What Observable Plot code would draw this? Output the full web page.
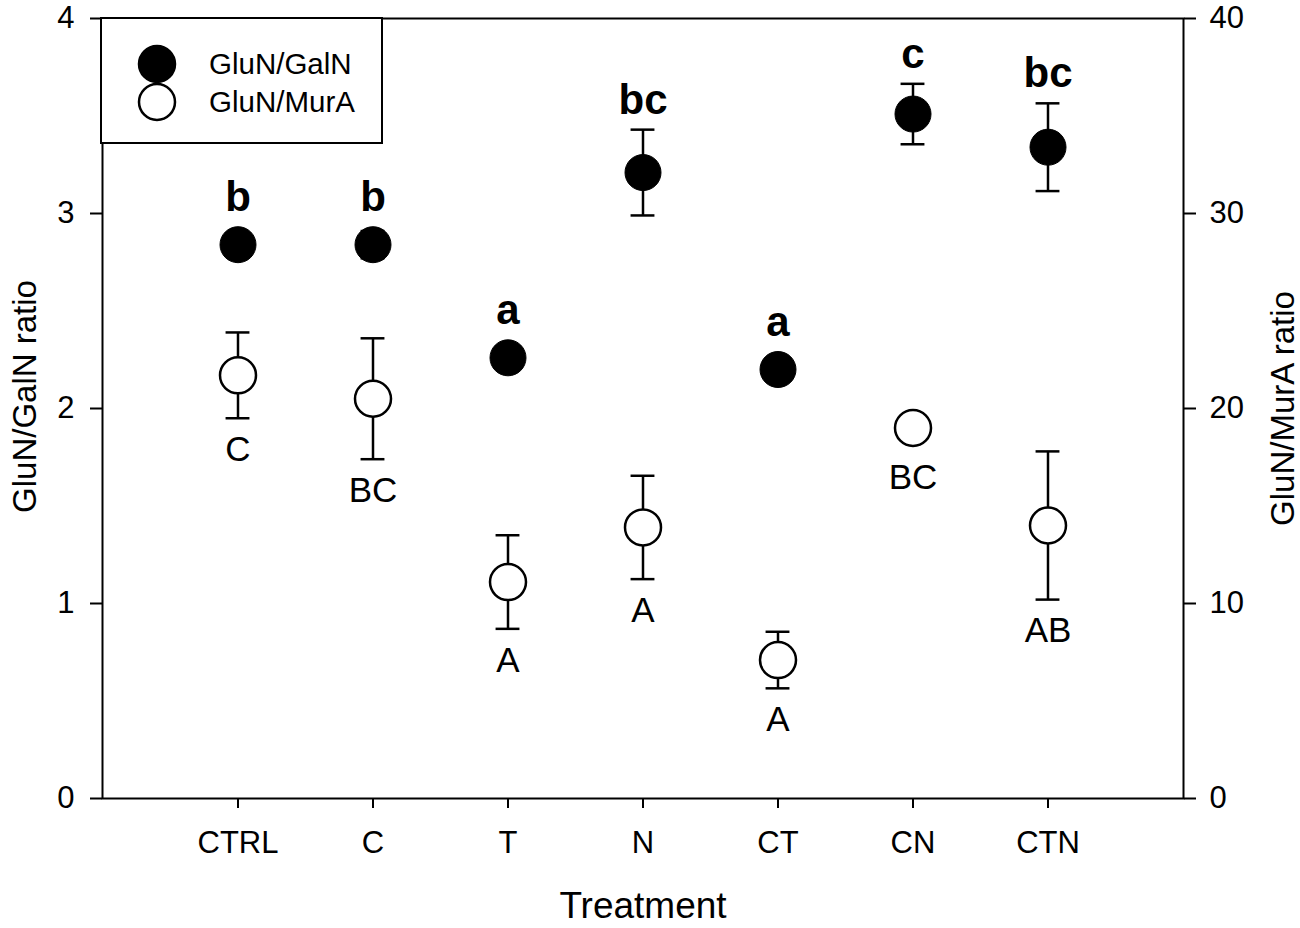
<!DOCTYPE html>
<html><head><meta charset="utf-8">
<script src="https://cdn.jsdelivr.net/npm/d3@7"></script>
<script src="https://cdn.jsdelivr.net/npm/@observablehq/plot@0.6"></script>
<style>
body{margin:0;background:#fff;}
#wrap{position:relative;width:1300px;height:928px;overflow:hidden;}
#legend{position:absolute;left:100px;top:17px;width:283px;height:127px;border:2px solid #000;background:#fff;box-sizing:border-box;}
</style></head><body><div id="wrap"><div id="legend"></div></div>
<script>
const treatments = ["CTRL","C","T","N","CT","CN","CTN"];
const seriesNames = ["GluN/GalN","GluN/MurA"];
const galnMean = [2.84,2.84,2.26,3.21,2.20,3.51,3.34];
const galnSE = [0.06,0.07,0.05,0.22,0.05,0.155,0.225];
const galnLetters = ["b","b","a","bc","a","c","bc"];
const muraMean = [21.7,20.5,11.1,13.9,7.1,19.0,14.0];
const muraSE = [2.2,3.1,2.4,2.65,1.45,0.5,3.8];
const muraLetters = ["C","BC","A","A","A","BC","AB"];
const leftTicks = [0,1,2,3,4];
const rightTicks = [0,10,20,30,40];
const xLabel = "Treatment";
const yLeftLabel = "GluN/GalN ratio";
const yRightLabel = "GluN/MurA ratio";

const FONT = '"Liberation Sans", Arial, sans-serif';
const R = 18;            // dot radius (px)
const pxPerLeft = 195;   // approx px per left unit, for label clearance
const ratio = 10;        // right axis = left * 10
const BAND = 1081 / 8;   // band step (px)
const CAP = (BAND - 24) / 2; // inset so caps are 24px wide

const galn = treatments.map((t,i)=>({t, m:galnMean[i], lo:galnMean[i]-galnSE[i], hi:galnMean[i]+galnSE[i], lab:galnLetters[i],
  ly: Math.max(galnMean[i]+galnSE[i], galnMean[i]+R/pxPerLeft)}));
const mura = treatments.map((t,i)=>({t, m:muraMean[i]/ratio, lo:(muraMean[i]-muraSE[i])/ratio, hi:(muraMean[i]+muraSE[i])/ratio, lab:muraLetters[i],
  ly: Math.min((muraMean[i]-muraSE[i])/ratio, muraMean[i]/ratio - R/pxPerLeft)}));

const chart = Plot.plot({
  width:1300, height:928,
  marginLeft:102, marginRight:117, marginTop:18, marginBottom:130,
  style:{fontFamily:FONT, fontSize:"31px", color:"black", background:"white", overflow:"visible"},
  x:{type:"band", domain:treatments, paddingInner:0, paddingOuter:0.5, label:null},
  y:{domain:[0,4], label:null},
  marks:[
    Plot.frame({stroke:"black", strokeWidth:2}),
    Plot.axisX({tickSize:10, tickPadding:22, strokeWidth:2, fontSize:31, label:null}),
    Plot.axisY({anchor:"left", ticks:leftTicks, tickFormat:d=>String(d), tickSize:12, tickPadding:16, strokeWidth:2, fontSize:31, label:null}),
    Plot.axisY({anchor:"right", ticks:rightTicks.map(v=>v/ratio), tickFormat:d=>String(Math.round(d*ratio)), tickSize:12, tickPadding:14, strokeWidth:2, fontSize:31, label:null}),
    // error bars
    Plot.ruleX(galn, {x:"t", y1:"lo", y2:"hi", stroke:"black", strokeWidth:2.5}),
    Plot.tickY(galn, {x:"t", y:"lo", stroke:"black", strokeWidth:2.5, insetLeft:CAP, insetRight:CAP}),
    Plot.tickY(galn, {x:"t", y:"hi", stroke:"black", strokeWidth:2.5, insetLeft:CAP, insetRight:CAP}),
    Plot.ruleX(mura, {x:"t", y1:"lo", y2:"hi", stroke:"black", strokeWidth:2.5}),
    Plot.tickY(mura, {x:"t", y:"lo", stroke:"black", strokeWidth:2.5, insetLeft:CAP, insetRight:CAP}),
    Plot.tickY(mura, {x:"t", y:"hi", stroke:"black", strokeWidth:2.5, insetLeft:CAP, insetRight:CAP}),
    // dots
    Plot.dot(mura, {x:"t", y:"m", r:R, fill:"white", stroke:"black", strokeWidth:2.5}),
    Plot.dot(galn, {x:"t", y:"m", r:R, fill:"black", stroke:"black", strokeWidth:1}),
    // letters
    Plot.text(galn, {x:"t", y:"ly", text:"lab", dy:-16, lineAnchor:"bottom", fontSize:42, fontWeight:"bold", fill:"black"}),
    Plot.text(mura, {x:"t", y:"ly", text:"lab", dy:18, lineAnchor:"top", fontSize:35, fill:"black"}),
    // axis titles
    Plot.text([xLabel], {frameAnchor:"bottom", dy:108, lineAnchor:"middle", textAnchor:"middle", fontSize:37, fill:"black"}),
    Plot.text([yLeftLabel], {frameAnchor:"left", dx:-77, dy:-12, rotate:-90, textAnchor:"middle", lineAnchor:"middle", fontSize:33, fill:"black"}),
    Plot.text([yRightLabel], {frameAnchor:"right", dx:100, rotate:-90, textAnchor:"middle", lineAnchor:"middle", fontSize:33, fill:"black"})
  ]
});
document.getElementById("wrap").prepend(chart);

// legend
const lg = d3.select("#legend").append("svg").attr("width",279).attr("height",123)
  .style("font-family",FONT).style("font-size","29.5px");
const items = [{name:seriesNames[0], fill:"black"},{name:seriesNames[1], fill:"white"}];
items.forEach((d,i)=>{
  const cy = 45 + i*38;
  lg.append("circle").attr("cx",55).attr("cy",cy).attr("r",R).attr("fill",d.fill).attr("stroke","black").attr("stroke-width",2.5);
  lg.append("text").attr("x",107).attr("y",cy).attr("dy","0.35em").attr("fill","black").text(d.name);
});
</script>
</body></html>
